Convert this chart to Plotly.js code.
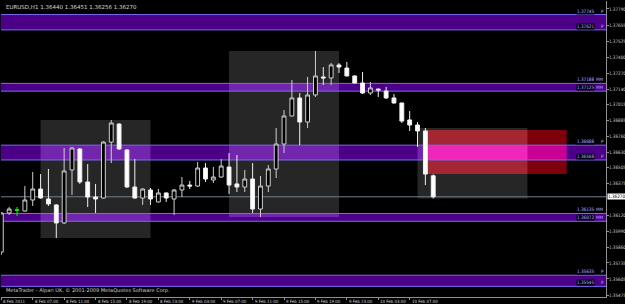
<!DOCTYPE html>
<html><head><meta charset="utf-8">
<script src="https://cdn.plot.ly/plotly-3.0.1.min.js"></script>
<style>
html,body{margin:0;padding:0;background:#000;}
#chart{width:625px;height:304px;}
</style></head><body><div id="chart"></div>
<script>
const times = [
'2011-02-08 03:00','2011-02-08 04:00','2011-02-08 06:00','2011-02-08 07:00','2011-02-08 08:00','2011-02-08 09:00','2011-02-08 10:00','2011-02-08 11:00','2011-02-08 12:00','2011-02-08 13:00','2011-02-08 14:00','2011-02-08 15:00','2011-02-08 16:00','2011-02-08 17:00','2011-02-08 18:00','2011-02-08 19:00','2011-02-08 20:00','2011-02-08 21:00','2011-02-08 22:00','2011-02-08 23:00',
'2011-02-09 00:00','2011-02-09 01:00','2011-02-09 02:00','2011-02-09 03:00','2011-02-09 04:00','2011-02-09 05:00','2011-02-09 06:00','2011-02-09 07:00','2011-02-09 08:00','2011-02-09 09:00','2011-02-09 10:00','2011-02-09 11:00','2011-02-09 12:00','2011-02-09 13:00','2011-02-09 14:00','2011-02-09 15:00','2011-02-09 16:00','2011-02-09 17:00','2011-02-09 18:00','2011-02-09 19:00','2011-02-09 20:00','2011-02-09 21:00','2011-02-09 22:00','2011-02-09 23:00',
'2011-02-10 00:00','2011-02-10 01:00','2011-02-10 02:00','2011-02-10 03:00','2011-02-10 04:00','2011-02-10 05:00','2011-02-10 06:00','2011-02-10 07:00','2011-02-10 08:00','2011-02-10 09:00','2011-02-10 10:00'];
const openP = [1.35823,1.36139,1.36155,1.36244,1.36333,1.36252,1.36204,1.36058,1.36487,1.36657,1.36390,1.36268,1.36260,1.36713,1.36859,1.36649,1.36349,1.36260,1.36325,1.36228,
1.36301,1.36252,1.36325,1.36365,1.36357,1.36503,1.36406,1.36430,1.36511,1.36374,1.36349,1.36414,1.36171,1.36357,1.36495,1.36697,1.36924,1.37070,1.36875,1.37094,1.37240,1.37232,1.37337,1.37312,
1.37248,1.37191,1.37110,1.37142,1.37126,1.37070,1.37029,1.36892,1.36851,1.36803,1.36440];
const highP = [1.36145,1.36187,1.36357,1.36471,1.36454,1.36495,1.36210,1.36665,1.36670,1.36665,1.36535,1.36374,1.36720,1.36892,1.36865,1.36655,1.36576,1.36340,1.36341,1.36333,
1.36305,1.36333,1.36430,1.36398,1.36552,1.36543,1.36511,1.36576,1.36624,1.36608,1.36487,1.36543,1.36438,1.36527,1.36827,1.36972,1.37215,1.37110,1.37240,1.37450,1.37320,1.37353,1.37353,1.37361,
1.37252,1.37280,1.37199,1.37145,1.37159,1.37102,1.37032,1.36964,1.36875,1.36827,1.36451];
const lowP = [1.35800,1.36123,1.36150,1.36196,1.36255,1.36196,1.35936,1.36050,1.36285,1.36374,1.36187,1.36139,1.36255,1.36543,1.36650,1.36341,1.36255,1.36204,1.36204,1.36225,
1.36228,1.36123,1.36268,1.36333,1.36350,1.36390,1.36382,1.36425,1.36293,1.36309,1.36309,1.36139,1.36106,1.36309,1.36422,1.36624,1.36920,1.36689,1.36827,1.37078,1.37175,1.37175,1.37272,1.37245,
1.37188,1.37102,1.37094,1.37078,1.37062,1.37025,1.36867,1.36803,1.36673,1.36365,1.36256];
const closeP = [1.36139,1.36171,1.36244,1.36333,1.36260,1.36212,1.36058,1.36479,1.36665,1.36390,1.36268,1.36252,1.36713,1.36867,1.36657,1.36349,1.36260,1.36333,1.36252,1.36301,
1.36260,1.36325,1.36365,1.36357,1.36503,1.36414,1.36430,1.36519,1.36365,1.36349,1.36414,1.36171,1.36357,1.36495,1.36697,1.36924,1.37070,1.36875,1.37094,1.37248,1.37232,1.37337,1.37320,1.37248,
1.37191,1.37110,1.37151,1.37134,1.37070,1.37029,1.36883,1.36851,1.36803,1.36454,1.36270];

const dojiTime = ['2011-02-08 05:00'];
const dojiOpen = [1.36163], dojiHigh = [1.36187], dojiLow = [1.36115], dojiClose = [1.36163];

const bandTop = [1.37745, 1.37188, 1.36688, 1.36135, 1.35635];
const bandBottom = [1.37621, 1.37125, 1.36568, 1.36072, 1.35545];
const bandTag = ['P', 'MM', 'P', 'MM', 'P'];

const sessionStart = ['2011-02-08 08:00', '2011-02-09 08:00', '2011-02-10 08:00'];
const sessionEnd = ['2011-02-08 22:00', '2011-02-09 22:00', '2011-02-10 22:00'];
const sessionHigh = [1.36892, 1.37450, 1.36827];
const sessionLow = [1.35936, 1.36106, 1.36256];

const zoneStart = ['2011-02-10 09:00'], zoneEnd = ['2011-02-11 03:00'];
const zoneHigh = [1.36811], zoneLow = [1.36454];

const bidPrice = 1.36270;
const titleText = 'EURUSD,H1 1.36440 1.36451 1.36256 1.36270';
const copyText = 'MetaTrader - Alpari UK, © 2001-2009 MetaQuotes Software Corp.';

const xTickVals = ['2011-02-08 03:00','2011-02-08 07:00','2011-02-08 11:00','2011-02-08 15:00','2011-02-08 19:00','2011-02-08 23:00','2011-02-09 03:00','2011-02-09 07:00','2011-02-09 11:00','2011-02-09 15:00','2011-02-09 19:00','2011-02-09 23:00','2011-02-10 03:00','2011-02-10 07:00'];
const xTickText = ['8 Feb 2011','8 Feb 07:00','8 Feb 11:00','8 Feb 15:00','8 Feb 19:00','8 Feb 23:00','9 Feb 03:00','9 Feb 07:00','9 Feb 11:00','9 Feb 15:00','9 Feb 19:00','9 Feb 23:00','10 Feb 03:00','10 Feb 07:00'];
const yTickVals = [1.37790,1.37655,1.37525,1.37400,1.37270,1.37140,1.37015,1.36885,1.36760,1.36630,1.36505,1.36375,1.36120,1.35990,1.35860,1.35735,1.35605,1.35475];

const xRange = ['2011-02-08 02:57:36', '2011-02-11 08:00'];
const fullX0 = '2011-02-07 12:00', fullX1 = '2011-02-12 00:00';
const smallFam = 'DejaVu Sans Condensed, Liberation Sans Narrow, DejaVu Sans, sans-serif';

// additive colour mixing like the terminal's object drawing
const GRAY = [38,38,38], RED = [125,0,12], PURPLE = [75,0,135];
function mix(...cs){ const r=[0,0,0]; cs.forEach(c=>{for(let k=0;k<3;k++) r[k]=Math.min(255,r[k]+c[k]);}); return 'rgb('+r.join(',')+')'; }
const sMax=(a,b)=>a>b?a:b, sMin=(a,b)=>a<b?a:b;
const shapes = [];
function rect(x0,x1,y0,y1,color){
  if (!(x0 < x1) || !(y0 < y1)) return;
  shapes.push({type:'rect', xref:'x', yref:'y', layer:'below', x0:x0, x1:x1, y0:y0, y1:y1, fillcolor:color, line:{width:0}});
}
function hline(y,color){ shapes.push({type:'line', xref:'x', yref:'y', layer:'below', x0:fullX0, x1:fullX1, y0:y, y1:y, line:{color:color, width:1}}); }

sessionStart.forEach((s,i)=>rect(s, sessionEnd[i], sessionLow[i], sessionHigh[i], mix(GRAY)));
zoneStart.forEach((z,j)=>{
  rect(z, zoneEnd[j], zoneLow[j], zoneHigh[j], mix(RED));
  sessionStart.forEach((s,i)=>rect(sMax(z,s), sMin(zoneEnd[j],sessionEnd[i]), Math.max(zoneLow[j],sessionLow[i]), Math.min(zoneHigh[j],sessionHigh[i]), mix(RED,GRAY)));
});
bandTop.forEach((t,b)=>{
  const lo = bandBottom[b];
  rect(fullX0, fullX1, lo, t, mix(PURPLE));
  sessionStart.forEach((s,i)=>rect(s, sessionEnd[i], Math.max(lo,sessionLow[i]), Math.min(t,sessionHigh[i]), mix(PURPLE,GRAY)));
  zoneStart.forEach((z,j)=>{
    rect(z, zoneEnd[j], Math.max(lo,zoneLow[j]), Math.min(t,zoneHigh[j]), mix(PURPLE,RED));
    sessionStart.forEach((s,i)=>rect(sMax(z,s), sMin(zoneEnd[j],sessionEnd[i]),
      Math.max(lo,zoneLow[j],sessionLow[i]), Math.min(t,zoneHigh[j],sessionHigh[i]), mix(PURPLE,RED,GRAY)));
  });
});
bandTop.forEach((t,b)=>{ hline(t,'rgb(125,105,245)'); hline(bandBottom[b],'rgb(125,105,245)'); });
hline(bidPrice, '#6f7f8f');

const lblFont = {family:smallFam, size:4.6, color:'#b8b8ff'};
const annotations = [];
bandTop.forEach((t, i) => {
  [t, bandBottom[i]].forEach(v => {
    annotations.push({xref:'paper', yref:'y', x:0.982, y:v, xanchor:'right', yanchor:'bottom', showarrow:false,
      text:v.toFixed(5), font:lblFont, bgcolor:'#00000e', borderpad:0});
    annotations.push({xref:'paper', yref:'y', x:0.999, y:v, xanchor:'right', yanchor:'bottom', showarrow:false,
      text:bandTag[i], font:lblFont, borderpad:0});
  });
});
annotations.push({xref:'paper', yref:'paper', x:0, y:1, xanchor:'left', yanchor:'top', xshift:3, yshift:-1, showarrow:false,
  text:titleText, font:{family:'DejaVu Sans', size:5.5, color:'#d8d8d8'}});
annotations.push({xref:'paper', yref:'paper', x:0, y:0, xanchor:'left', yanchor:'bottom', xshift:3, yshift:1, showarrow:false,
  text:copyText, font:{family:'DejaVu Sans', size:5, color:'#d0d0d0'}});
annotations.push({xref:'paper', yref:'y', x:1, y:bidPrice, xanchor:'left', yanchor:'middle', xshift:1, showarrow:false,
  text:bidPrice.toFixed(5), font:{family:smallFam, size:4.6, color:'#000'}, bgcolor:'#ffffff', borderpad:0});
xTickVals.forEach((v,i)=>annotations.push({xref:'x', yref:'paper', x:v, y:0, xanchor:'left', yanchor:'top', xshift:1, yshift:-1,
  showarrow:false, text:xTickText[i], font:{family:smallFam, size:4.4, color:'#d0d0d0'}, borderpad:0}));

const data = [
  {type:'candlestick', x:times, open:openP, high:highP, low:lowP, close:closeP,
   increasing:{line:{color:'#cfcfcf', width:1}, fillcolor:'#000000'},
   decreasing:{line:{color:'#f0f0f0', width:1}, fillcolor:'#ffffff'},
   whiskerwidth:0, showlegend:false, hoverinfo:'skip'},
  {type:'candlestick', x:dojiTime, open:dojiOpen, high:dojiHigh, low:dojiLow, close:dojiClose,
   increasing:{line:{color:'#00ff00', width:1}, fillcolor:'#00ff00'},
   decreasing:{line:{color:'#00ff00', width:1}, fillcolor:'#00ff00'},
   showlegend:false, hoverinfo:'skip'}
];

const layout = {
  width:625, height:304,
  margin:{l:1, r:19, t:1, b:7, pad:0},
  paper_bgcolor:'#000', plot_bgcolor:'#000',
  showlegend:false,
  xaxis:{type:'date', range:xRange, rangeslider:{visible:false},
    tickvals:xTickVals, ticktext:xTickText, showticklabels:false, ticks:'outside', ticklen:2, tickcolor:'#909090',
    showgrid:false, zeroline:false, showline:true, linecolor:'#909090', linewidth:1, fixedrange:true},
  yaxis:{side:'right', range:[1.354589, 1.378547], tickvals:yTickVals, ticktext:yTickVals.map(v=>v.toFixed(5)),
    ticks:'outside', ticklen:2, tickcolor:'#909090', ticklabelstandoff:-1,
    tickfont:{family:smallFam, size:4.6, color:'#d0d0d0'},
    showgrid:false, zeroline:false, showline:true, linecolor:'#909090', linewidth:1, fixedrange:true},
  shapes:shapes, annotations:annotations
};
Plotly.newPlot('chart', data, layout, {staticPlot:true, displayModeBar:false});
</script></body></html>
